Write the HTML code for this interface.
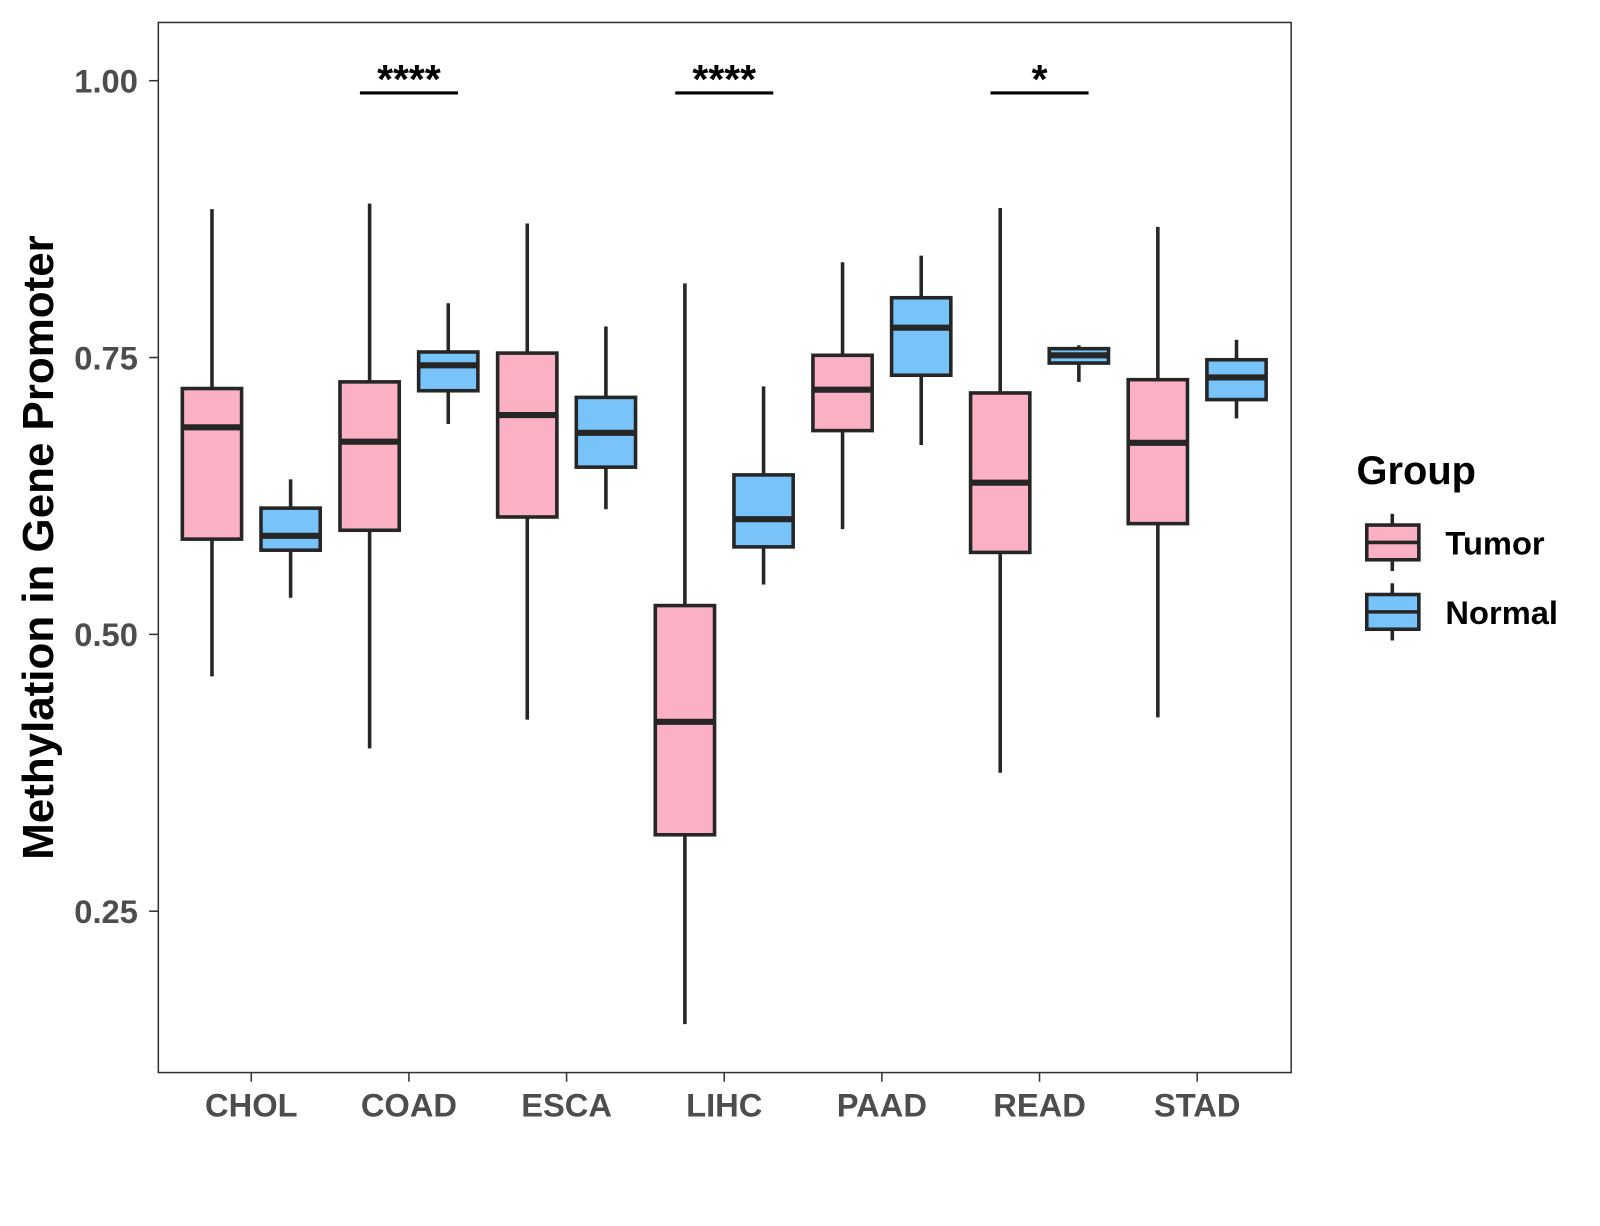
<!DOCTYPE html>
<html><head><meta charset="utf-8"><style>
body{margin:0;background:#fff;width:1600px;height:1200px;overflow:hidden}
#wrap{position:absolute;left:0;top:0;width:1600px;height:1200px;transform:scale(1.0215);transform-origin:0 0}
svg{font-family:"Liberation Sans",Arial,sans-serif}
</style></head><body>
<div id="wrap">
<svg id="c" width="1600" height="1200" style="position:absolute;left:0;top:0"></svg>
<svg width="1600" height="1200" style="position:absolute;left:0;top:0">
<text transform="translate(52,536) rotate(-90)" text-anchor="middle" font-size="43" font-weight="bold" font-family="Liberation Sans,sans-serif">Methylation in Gene Promoter</text>
<text x="1328" y="474" font-size="39" font-weight="bold" font-family="Liberation Sans,sans-serif">Group</text>
<g stroke="#262626" stroke-width="3.5">
<line x1="1363" x2="1363" y1="503" y2="559"/><rect x="1338" y="514" width="51" height="34" fill="#fbb1c3"/><line x1="1338" x2="1389" y1="531" y2="531"/>
<text x="1415" y="543" stroke="none" font-size="32" font-weight="bold" font-family="Liberation Sans,sans-serif">Tumor</text></g>
<g stroke="#262626" stroke-width="3.5">
<line x1="1363" x2="1363" y1="571" y2="627"/><rect x="1338" y="582" width="51" height="34" fill="#77c3fa"/><line x1="1338" x2="1389" y1="599" y2="599"/>
<text x="1415" y="611" stroke="none" font-size="32" font-weight="bold" font-family="Liberation Sans,sans-serif">Normal</text></g>
</svg>
</div>
<script>
const categories=["CHOL","COAD","ESCA","LIHC","PAAD","READ","STAD"];
// [lowWhisker, Q1, median, Q3, highWhisker]
const tumorStats=[[0.462,0.586,0.687,0.722,0.884],[0.397,0.594,0.674,0.728,0.889],[0.423,0.606,0.698,0.754,0.871],[0.148,0.319,0.421,0.526,0.817],[0.595,0.684,0.721,0.752,0.836],[0.375,0.574,0.637,0.718,0.885],[0.425,0.600,0.673,0.730,0.868]];
const normalStats=[[0.533,0.576,0.589,0.614,0.640],[0.690,0.720,0.743,0.755,0.799],[0.613,0.651,0.682,0.714,0.778],[0.545,0.579,0.604,0.644,0.724],[0.671,0.734,0.777,0.804,0.842],[0.728,0.745,0.752,0.758,0.761],[0.695,0.712,0.732,0.748,0.766]];
const yTicks=[0.25,0.50,0.75,1.00];
const yTickLabels=["0.25","0.50","0.75","1.00"];
const sigLabels=["","****","","****","","*",""];

const NS="http://www.w3.org/2000/svg";
const svg=document.getElementById('c');
const L=155,R=1264,T=22,B=1050;
const y=v=>79+(1-v)*1084;
const x=i=>246+i*154.33;
function el(tag,attrs,parent){const e=document.createElementNS(NS,tag);for(const k in attrs)e.setAttribute(k,attrs[k]);(parent||svg).appendChild(e);return e;}

const panel=el('rect',{x:L,y:T,width:R-L,height:B-T,fill:'#fff',stroke:'#333','stroke-width':1.5});



yTicks.forEach((v,i)=>{
  const g=el('g',{});
  
  
  el('line',{x1:L-9,x2:L,y1:y(v),y2:y(v),stroke:'#333','stroke-width':1.5},g);
  const t=el('text',{x:L-20,y:y(v)+11.5,'text-anchor':'end','font-size':32,'font-weight':'bold',fill:'#4d4d4d'},g);
  t.textContent=yTickLabels[i];
});
categories.forEach((c,i)=>{
  const g=el('g',{});
  
  
  el('line',{x1:x(i),x2:x(i),y1:B,y2:B+9,stroke:'#333','stroke-width':1.5},g);
  const t=el('text',{x:x(i),y:B+43,'text-anchor':'middle','font-size':32,'font-weight':'bold',fill:'#4d4d4d'},g);
  t.textContent=c;
});

function box(cx,s,fill,name){
  const g=el('g',{});
  
  
  const w=58,st={stroke:'#262626','stroke-width':3.5};
  el('line',Object.assign({x1:cx,x2:cx,y1:y(s[4]),y2:y(s[3])},st),g);
  el('line',Object.assign({x1:cx,x2:cx,y1:y(s[1]),y2:y(s[0])},st),g);
  el('rect',Object.assign({x:cx-w/2,y:y(s[3]),width:w,height:y(s[1])-y(s[3]),fill:fill},st),g);
  el('line',{x1:cx-w/2,x2:cx+w/2,y1:y(s[2]),y2:y(s[2]),stroke:'#262626','stroke-width':6},g);
}
categories.forEach((c,i)=>{
  box(x(i)-38.5,tumorStats[i],'#fbb1c3','box-tumor-'+c.toLowerCase());
  box(x(i)+38.5,normalStats[i],'#77c3fa','box-normal-'+c.toLowerCase());
  if(sigLabels[i]){
    const g=el('g',{});
    
    
    el('line',{x1:x(i)-48,x2:x(i)+48,y1:91,y2:91,stroke:'#000','stroke-width':3},g);
    const t=el('text',{x:x(i),y:91,'text-anchor':'middle','font-size':40,'font-weight':'bold',fill:'#000'},g);
    t.textContent=sigLabels[i];
  }
});
</script>
</body></html>
